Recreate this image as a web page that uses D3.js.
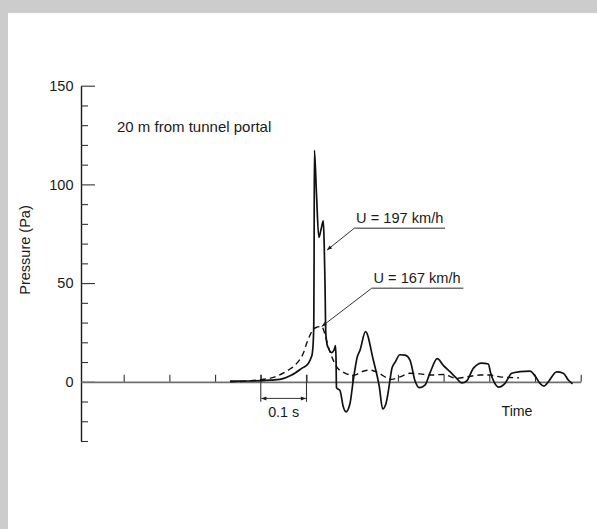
<!DOCTYPE html>
<html><head><meta charset="utf-8">
<script src="https://cdn.jsdelivr.net/npm/d3@7"></script>
<style>
body{margin:0;background:#fff}
svg{display:block}
text{font-family:"Liberation Sans",Arial,Helvetica,sans-serif;fill:#1a1a1a}
</style>
</head><body>
<svg id="c" width="597" height="529"></svg>
<script>
// ---- data ----
const timeDomain = [0.0066, 1.1];        // s
const pressureDomain = [-30, 150];       // Pa
const xTicks = [0.1,0.2,0.3,0.4,0.5,0.6,0.7,0.8,0.9,1.0,1.1];
const yMajorTicks = [0, 50, 100, 150];
const yMinorTicks = [-30,-20,-10,10,20,30,40,60,70,80,90,110,120,130,140];

// U = 197 km/h (solid)
const solidTime = [0.3326,0.3764,0.4201,0.4420,0.4676,0.4895,0.5039,0.5098,0.5127,0.5149,0.5160,0.5166,0.5173,0.5219,0.5269,0.5317,0.5368,0.5387,0.5405,0.5422,0.5449,0.5481,0.5547,0.5602,0.5635,0.5646,0.5656,0.5678,0.5733,0.5805,0.5864,0.5952,0.6024,0.6112,0.6171,0.6291,0.6462,0.6593,0.6667,0.6740,0.6790,0.6827,0.6871,0.6937,0.7046,0.7155,0.7265,0.7374,0.7468,0.7593,0.7702,0.7862,0.7993,0.8140,0.8287,0.8396,0.8506,0.8650,0.8834,0.8978,0.9031,0.9103,0.9212,0.9344,0.9490,0.9672,0.9891,1.0000,1.0109,1.0197,1.0291,1.0475,1.0619,1.0729,1.0821];
const solidPressure = [0.3,0.4,0.8,1.2,3.4,6.8,9.3,12.0,14.4,21.0,30.0,60.0,117.3,95.0,73.2,77.0,81.5,70.0,50.0,25.0,19.0,17.0,14.8,16.0,18.3,12.0,-3.0,-3.5,-4.5,-12.7,-15.2,-11.0,0.9,12.7,16.0,25.4,11.0,-2.5,-13.8,-11.0,-4.9,0.9,7.0,9.8,13.7,13.5,11.0,0.5,-3.0,-1.7,4.5,11.7,8.3,5.1,1.7,-0.6,0.5,6.8,9.5,9.0,4.3,0.0,-2.7,-0.8,4.3,5.1,5.4,3.0,-0.8,-2.2,0.0,5.0,4.3,0.9,-1.0];

// U = 167 km/h (dashed)
const dashedTime = [0.3326,0.3945,0.4311,0.4602,0.4786,0.4930,0.5004,0.5114,0.5208,0.5333,0.5405,0.5477,0.5540,0.5661,0.5832,0.6039,0.6208,0.6390,0.6571,0.6755,0.6864,0.7046,0.7265,0.7484,0.7702,0.7993,0.8287,0.8506,0.8797,0.9015,0.9234,0.9453,0.9650];
const dashedPressure = [0.0,0.9,2.5,5.9,9.3,14.4,19.5,25.3,27.5,28.0,24.0,17.7,13.5,7.6,4.5,3.3,5.1,5.9,4.6,2.0,1.2,2.5,4.3,4.0,3.4,3.7,1.7,2.5,3.4,3.4,2.5,2.2,2.0];

const seriesLabels = ["U = 197 km/h", "U = 167 km/h"];
const labelTipTime = [0.5449, 0.5333];
const labelTipPressure = [66.7, 28.0];
const scaleBarTimes = [0.4, 0.5];
const scaleBarLabel = "0.1 s";
const titleText = "20 m from tunnel portal";
const yTitle = "Pressure (Pa)";
const xTitle = "Time";

// ---- drawing ----
const W = 597, H = 529;
const svg = d3.select("#c");
svg.append("rect").attr("width", W).attr("height", H).attr("fill", "#cccccc");
svg.append("rect").attr("x", 8).attr("y", 13).attr("width", W - 8).attr("height", H - 13).attr("fill", "#ffffff");

const x = d3.scaleLinear().domain(timeDomain).range([81, 580.7]);
const y = d3.scaleLinear().domain(pressureDomain).range([441, 85.7]);

const defs = svg.append("defs");
defs.append("marker").attr("id", "ah").attr("viewBox", "0 0 10 10")
  .attr("refX", 10).attr("refY", 5).attr("markerWidth", 6).attr("markerHeight", 5)
  .attr("orient", "auto-start-reverse").attr("markerUnits", "userSpaceOnUse")
  .append("path").attr("d", "M0,1 L10,5 L0,9 Z").attr("fill", "#1a1a1a");

// Y axis
const gy = svg.append("g").attr("transform", "translate(81,0)");
gy.call(d3.axisLeft(y).tickValues(yMajorTicks).tickSizeInner(-14).tickSizeOuter(0).tickPadding(7.5).tickFormat(d3.format("d")));
gy.selectAll("text").attr("font-size", 14.5).attr("font-family", "Liberation Sans, Arial, sans-serif").attr("fill", "#1a1a1a");
gy.select(".domain").attr("stroke", "#1a1a1a").attr("stroke-width", 1.4);
gy.selectAll(".tick line").attr("stroke", "#333").attr("stroke-width", 1.1);
const gy2 = svg.append("g").attr("transform", "translate(81,0)");
gy2.call(d3.axisLeft(y).tickValues(yMinorTicks).tickSizeInner(-7).tickSizeOuter(0).tickFormat(""));
gy2.select(".domain").remove();
gy2.selectAll(".tick line").attr("stroke", "#333").attr("stroke-width", 1.1);

// X axis (zero line)
const gx = svg.append("g").attr("transform", `translate(0,${y(0)})`);
gx.call(d3.axisBottom(x).tickValues(xTicks).tickSizeInner(-7).tickSizeOuter(0).tickFormat(""));
gx.select(".domain").attr("stroke", "#707070").attr("stroke-width", 1.8);
gx.selectAll(".tick line").attr("stroke", "#333").attr("stroke-width", 1.1);

// Scale bar
const y0 = y(0);
scaleBarTimes.forEach(t => {
  svg.append("line").attr("x1", x(t)).attr("x2", x(t)).attr("y1", y0 - 7).attr("y2", y0 + 20)
    .attr("stroke", "#333").attr("stroke-width", 1.1);
});
svg.append("line").attr("x1", x(scaleBarTimes[0]) + 0.6).attr("x2", x(scaleBarTimes[1]) - 0.6)
  .attr("y1", y0 + 16.6).attr("y2", y0 + 16.6).attr("stroke", "#333").attr("stroke-width", 1)
  .attr("marker-start", "url(#ah)").attr("marker-end", "url(#ah)");
svg.append("text").attr("x", (x(scaleBarTimes[0]) + x(scaleBarTimes[1])) / 2).attr("y", y0 + 35)
  .attr("text-anchor", "middle").attr("font-size", 14.3).text(scaleBarLabel);

// Series
const solid = d3.zip(solidTime, solidPressure);
const dashed = d3.zip(dashedTime, dashedPressure);
const line = d3.line().x(d => x(d[0])).y(d => y(d[1])).curve(d3.curveMonotoneX);
svg.append("path").attr("d", line(dashed)).attr("fill", "none").attr("stroke", "#111")
  .attr("stroke-width", 1.4).attr("stroke-dasharray", "6,4");
svg.append("path").attr("d", line(solid)).attr("fill", "none").attr("stroke", "#111")
  .attr("stroke-width", 1.7).attr("stroke-linejoin", "round");

// Labels with leaders
const labelOffsets = [[27.3, -21.9, 90.7], [50, -38.3, 91.6]];
seriesLabels.forEach((lab, i) => {
  const tx = x(labelTipTime[i]), ty = y(labelTipPressure[i]);
  const [dx, dy, len] = labelOffsets[i];
  const ax = tx + dx, ay = ty + dy;
  svg.append("line").attr("x1", ax).attr("y1", ay).attr("x2", tx).attr("y2", ty)
    .attr("stroke", "#1a1a1a").attr("stroke-width", 0.9).attr("marker-end", "url(#ah)");
  svg.append("line").attr("x1", ax).attr("y1", ay).attr("x2", ax + len).attr("y2", ay)
    .attr("stroke", "#707070").attr("stroke-width", 1.6);
  svg.append("text").attr("x", ax + 1.8).attr("y", ay - 5).attr("font-size", 14.6).text(lab);
});

// Texts
svg.append("text").attr("x", 117).attr("y", 131.5).attr("font-size", 15).text(titleText);
svg.append("text").attr("transform", "translate(29.5,250) rotate(-90)").attr("text-anchor", "middle")
  .attr("font-size", 14.5).text(yTitle);
svg.append("text").attr("x", 501.5).attr("y", 416).attr("font-size", 14.2).text(xTitle);
</script>
</body></html>
